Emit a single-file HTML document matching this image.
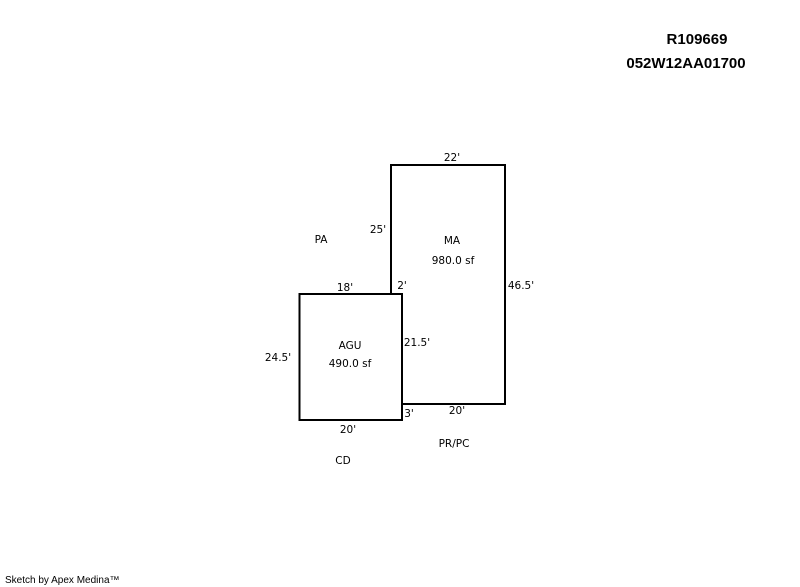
<!DOCTYPE html>
<html><head><style>
html,body{margin:0;padding:0;background:#fff;width:800px;height:587px;overflow:hidden}
svg text{font-family:"DejaVu Sans","Liberation Sans",sans-serif;font-size:10.5px;fill:#000}
</style></head><body>
<svg width="800" height="587" viewBox="0 0 800 587" xmlns="http://www.w3.org/2000/svg">
<polyline points="391,294 391,165 505,165 505,404 402,404" fill="none" stroke="#000" stroke-width="2"/>
<rect x="299.5" y="294" width="102.5" height="126" fill="none" stroke="#000" stroke-width="2"/>
<g text-anchor="middle">
<text x="697" y="44" style="font-family:'Liberation Sans',sans-serif;font-size:15px;font-weight:bold">R109669</text>
<text x="686" y="68" style="font-family:'Liberation Sans',sans-serif;font-size:15px;font-weight:bold">052W12AA01700</text>
<text x="452" y="161">22'</text>
<text x="378" y="233">25'</text>
<text x="321" y="243">PA</text>
<text x="452" y="244">MA</text>
<text x="453" y="264">980.0 sf</text>
<text x="345" y="291">18'</text>
<text x="402" y="289">2'</text>
<text x="521" y="289">46.5'</text>
<text x="350" y="349">AGU</text>
<text x="350" y="367">490.0 sf</text>
<text x="417" y="346">21.5'</text>
<text x="278" y="361">24.5'</text>
<text x="409" y="417">3'</text>
<text x="457" y="414">20'</text>
<text x="348" y="433">20'</text>
<text x="454" y="447">PR/PC</text>
<text x="343" y="464">CD</text>
</g>
<text x="5" y="583" style="font-family:'Liberation Sans',sans-serif;font-size:10px">Sketch by Apex Medina™</text>
</svg>
</body></html>
